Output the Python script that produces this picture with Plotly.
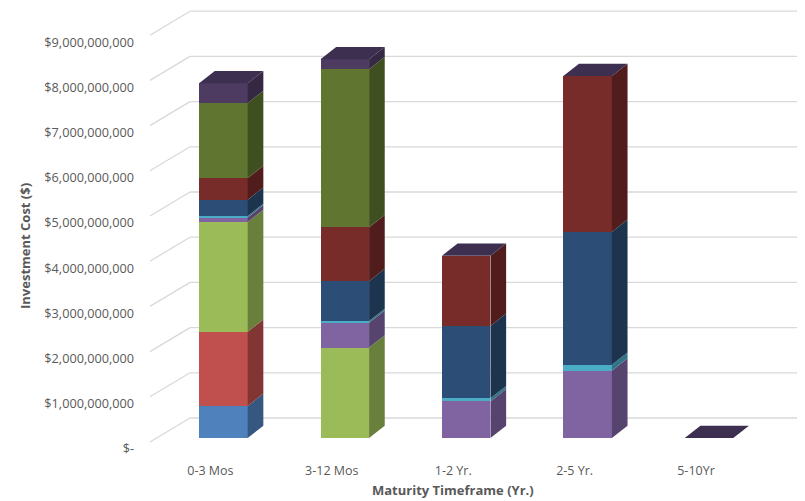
import plotly.graph_objects as go

# ---------------- data ----------------
categories = ["0-3 Mos", "3-12 Mos", "1-2 Yr.", "2-5 Yr.", "5-10Yr"]
series_names = ["Series 1", "Series 2", "Series 3", "Series 4", "Series 5",
                "Series 6", "Series 7", "Series 8", "Series 9"]
s1 = [710_000_000, 0, 0, 0, 0]
s2 = [1_640_000_000, 0, 0, 0, 0]
s3 = [2_430_000_000, 2_000_000_000, 0, 0, 0]
s4 = [100_000_000, 550_000_000, 810_000_000, 1_490_000_000, 0]
s5 = [30_000_000, 40_000_000, 70_000_000, 130_000_000, 0]
s6 = [360_000_000, 880_000_000, 1_600_000_000, 2_940_000_000, 0]
s7 = [480_000_000, 1_190_000_000, 1_550_000_000, 3_450_000_000, 0]
s8 = [1_660_000_000, 3_500_000_000, 0, 0, 0]
s9 = [440_000_000, 220_000_000, 0, 0, 0]
series = [s1, s2, s3, s4, s5, s6, s7, s8, s9]
tick_vals = [0, 1e9, 2e9, 3e9, 4e9, 5e9, 6e9, 7e9, 8e9, 9e9]
tick_text = ["$-", "$1,000,000,000", "$2,000,000,000", "$3,000,000,000",
             "$4,000,000,000", "$5,000,000,000", "$6,000,000,000",
             "$7,000,000,000", "$8,000,000,000", "$9,000,000,000"]
x_title = "Maturity Timeframe (Yr.)"
y_title = "Investment Cost ($)"

# ---------------- style ----------------
colors = ["#4F81BD", "#C0504D", "#9BBB59", "#8064A2", "#4BACC6",
          "#2C4D75", "#772C2A", "#5F7530", "#4D3B62"]
top_color = "#3D2F50"
bar_w = 0.40
ddx = 0.129          # depth offset (x units)
ddy = 0.272e9        # depth offset (y units)
back_off = 0.4425e9  # back wall offset of gridlines
front_off = -0.0885e9
x_back_left = -0.275
x_back_right = 4.733
x_front_left = -0.605
grid_col = "#D9D9D9"
txt_col = "#595959"
font_fam = "Open Sans"


def shade(hexcol, f):
    h = hexcol.lstrip("#")
    r, g, b = (int(h[i:i + 2], 16) for i in (0, 2, 4))
    return "#%02X%02X%02X" % (int(r * f), int(g * f), int(b * f))


xs = list(range(len(categories)))
fig = go.Figure()

# front faces
for name, vals, col in zip(series_names, series, colors):
    fig.add_trace(go.Bar(x=xs, y=vals, name=name, width=bar_w,
                         marker=dict(color=col, line=dict(width=0)),
                         showlegend=False, hoverinfo="skip"))

# side faces
base = [0.0] * len(xs)
for name, vals, col in zip(series_names, series, colors):
    px, py = [], []
    for i, v in enumerate(vals):
        if v > 0:
            xr = xs[i] + bar_w / 2
            b0, t0 = base[i], base[i] + v
            px += [xr, xr + ddx, xr + ddx, xr, xr, None]
            py += [b0, b0 + ddy, t0 + ddy, t0, b0, None]
        base[i] += v
    if px:
        fig.add_trace(go.Scatter(x=px, y=py, mode="lines", fill="toself",
                                 fillcolor=shade(col, 0.68),
                                 line=dict(width=0, color=shade(col, 0.68)),
                                 showlegend=False, hoverinfo="skip"))

# top faces
px, py = [], []
for i, t in enumerate(base):
    xl, xr = xs[i] - bar_w / 2, xs[i] + bar_w / 2
    px += [xl, xr, xr + ddx, xl + ddx, xl, None]
    py += [t, t, t + ddy, t + ddy, t, None]
fig.add_trace(go.Scatter(x=px, y=py, mode="lines", fill="toself",
                         fillcolor=top_color, line=dict(width=0, color=top_color),
                         showlegend=False, hoverinfo="skip"))

# back wall gridlines and left diagonal stubs
shapes = []
for v in tick_vals:
    shapes.append(dict(type="line", xref="x", yref="y", layer="below",
                       x0=x_back_left, x1=x_back_right,
                       y0=v + back_off, y1=v + back_off,
                       line=dict(color=grid_col, width=1.3)))
    shapes.append(dict(type="line", xref="x", yref="y", layer="below",
                       x0=x_front_left, x1=x_back_left,
                       y0=v + front_off, y1=v + back_off,
                       line=dict(color=grid_col, width=1.3)))

annotations = [
    dict(text="<b>%s</b>" % x_title, xref="paper", yref="paper",
         x=0.4667, y=-0.0783, xanchor="center", yanchor="middle",
         showarrow=False, font=dict(size=13, color=txt_col)),
    dict(text="<b>%s</b>" % y_title, xref="paper", yref="paper",
         x=-0.1818, y=0.4676, xanchor="center", yanchor="middle",
         textangle=-90, showarrow=False, font=dict(size=13, color=txt_col)),
]

fig.update_layout(
    width=797, height=493,
    margin=dict(l=137, r=0, t=0, b=46),
    paper_bgcolor="white", plot_bgcolor="white",
    barmode="stack", bargap=0,
    shapes=shapes, annotations=annotations,
    font=dict(family=font_fam, color=txt_col, size=12.7),
    xaxis=dict(range=[-0.6458, 4.7908], tickvals=xs, ticktext=categories,
               showgrid=False, zeroline=False, showline=False, ticks="",
               ticklabelshift=-13, ticklabelstandoff=6,
               tickfont=dict(size=12.5, color=txt_col),
               automargin=False, fixedrange=True),
    yaxis=dict(range=[-0.376e9, 9.513e9], tickvals=tick_vals, ticktext=tick_text,
               showgrid=False, zeroline=False, showline=False, ticks="",
               ticklabelshift=11, ticklabelstandoff=10,
               tickfont=dict(size=12.7, color=txt_col),
               automargin=False, fixedrange=True),
)

fig.write_html("out.html")
